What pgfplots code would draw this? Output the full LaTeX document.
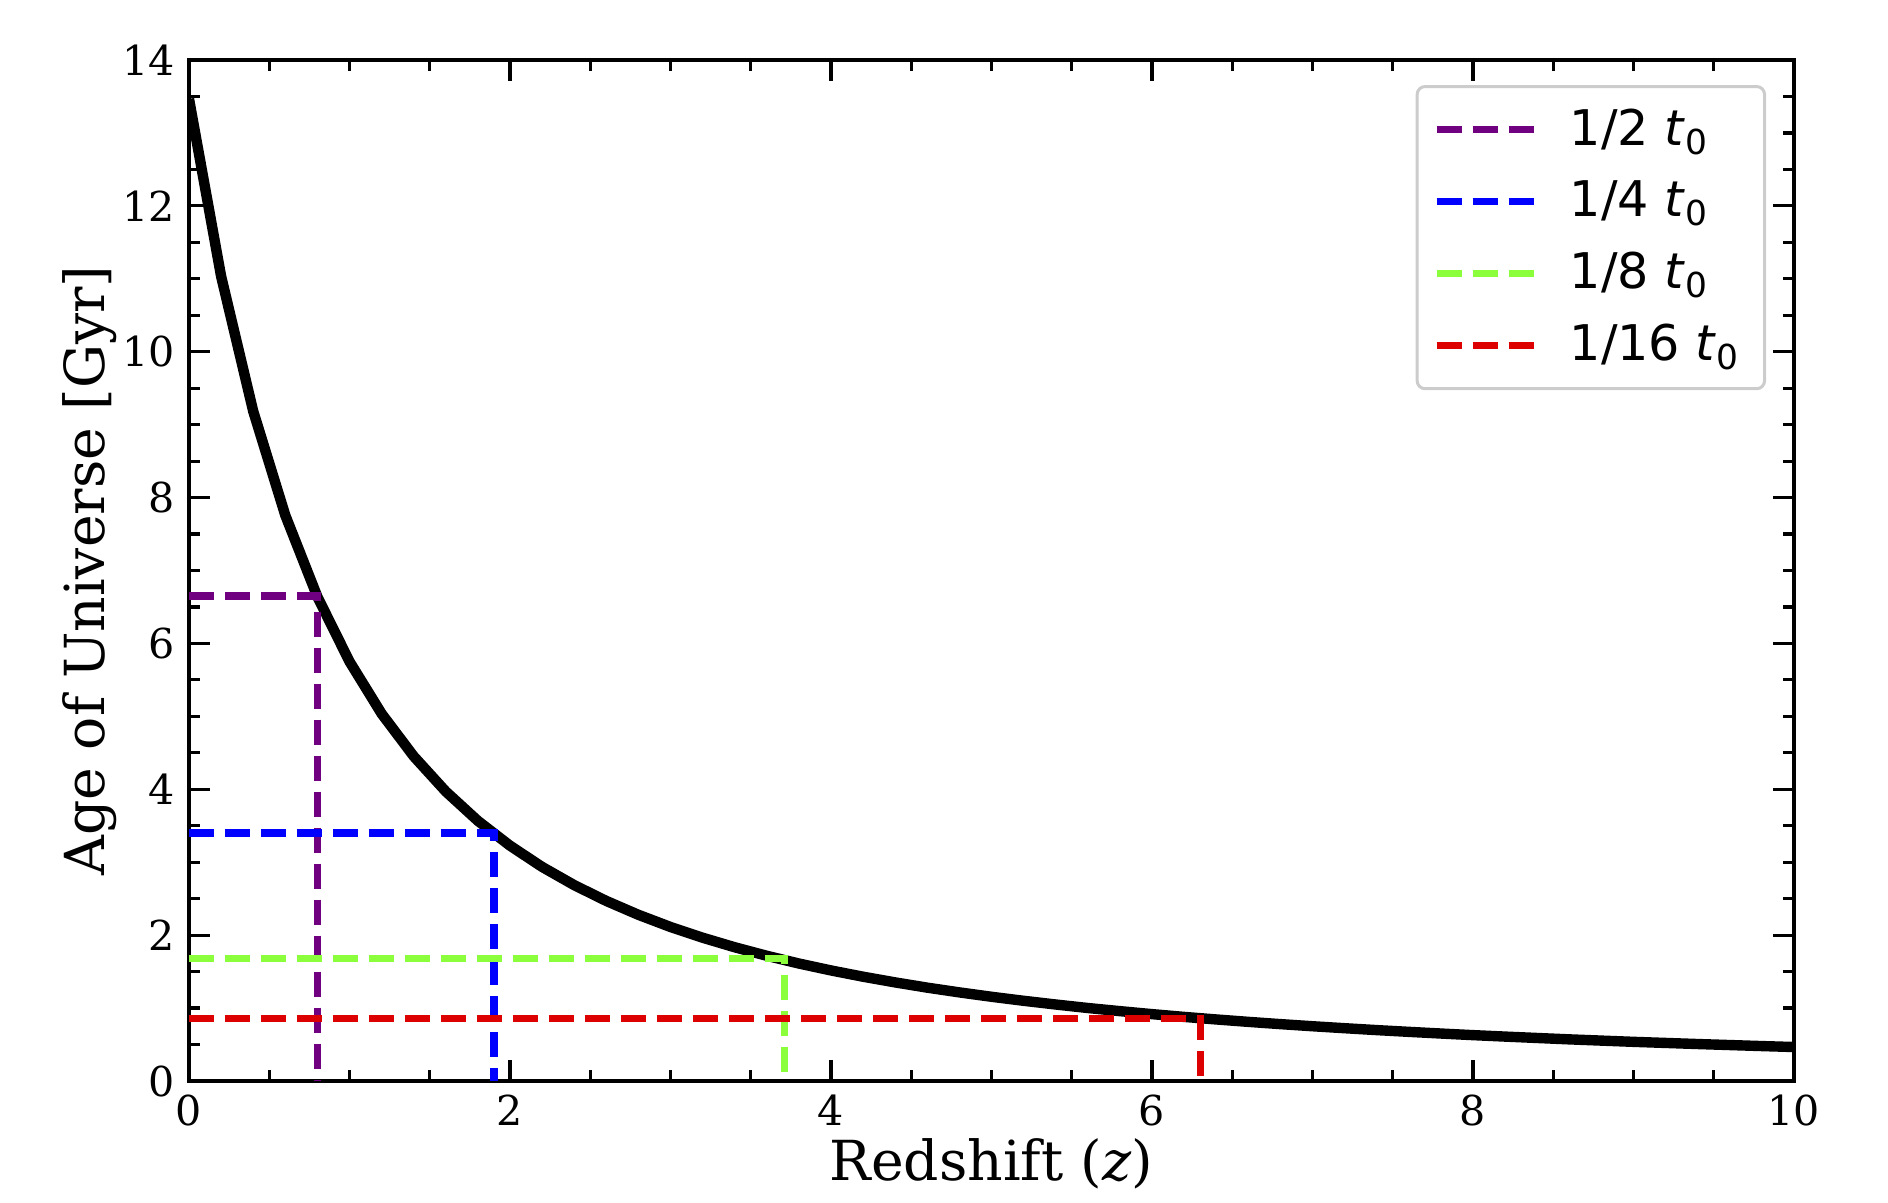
\documentclass[border=0pt]{standalone}
\usepackage{fontspec}
\setmainfont{DejaVu Serif}
\newfontfamily\legendfont{DejaVu Sans}
\usepackage{pgfplots}
\pgfplotsset{compat=1.18}

\definecolor{halfc}{RGB}{112,0,128}
\definecolor{quarterc}{RGB}{0,0,255}
\definecolor{eighthc}{RGB}{140,255,60}
\definecolor{sixteenthc}{RGB}{220,0,0}

\begin{document}
\begin{tikzpicture}
\path[use as bounding box] (-47.25pt,-30.25pt) rectangle (424.75pt,270.25pt);
\begin{axis}[
    at={(0pt,0pt)}, anchor=south west,
    scale only axis,
    width=401.25pt,
    height=255.25pt,
    xmin=0, xmax=10,
    ymin=0, ymax=14,
    xtick={0,2,...,10},
    ytick={0,2,...,14},
    minor tick num=3,
    tick align=inside,
    xtick pos=both, ytick pos=both,
    major tick length=5.25pt,
    minor tick length=2.75pt,
    axis line style={line width=0.8pt},
    every tick/.style={black, line width=0.8pt},
    tick label style={font=\fontsize{10.3}{12}\selectfont},
    /pgf/number format/assume math mode=true,
    xlabel={Redshift (\textit{z})},
    ylabel={Age of Universe [Gyr]},
    label style={font=\fontsize{13.8}{16}\selectfont},
    xlabel style={at={(axis description cs:0.5,-0.0558)}, anchor=north, inner sep=0pt},
    ylabel style={at={(axis description cs:-0.0791,0.5)}, anchor=north, inner sep=0pt},
    legend style={
      at={(0.9826,0.9755)}, anchor=north east,
      draw=black!20, line width=0.75pt, rounded corners=2pt,
      fill=white,
      font=\legendfont\fontsize{12.3}{14}\selectfont,
      inner xsep=4pt, inner ysep=3.5pt,
      row sep=3.4pt,
      /tikz/every odd column/.append style={column sep=5.75pt},
    },
    legend cell align=left,
    legend image code/.code={\draw[#1] (0pt,0pt) -- (24.6pt,0pt);},
  ]

  % age of the universe against redshift
  \addplot[black, line width=2.6pt, forget plot] coordinates {
    (0.0,13.467) (0.2,11.035) (0.4,9.185) (0.6,7.757) (0.8,6.640)
    (1.0,5.752) (1.2,5.037) (1.4,4.453) (1.6,3.970) (1.8,3.567)
    (2.0,3.227) (2.2,2.936) (2.4,2.686) (2.6,2.469) (2.8,2.279)
    (3.0,2.112) (3.2,1.965) (3.4,1.834) (3.6,1.717) (3.8,1.611)
    (4.0,1.516) (4.2,1.430) (4.4,1.352) (4.6,1.280) (4.8,1.215)
    (5.0,1.155) (5.2,1.100) (5.4,1.049) (5.6,1.001) (5.8,0.958)
    (6.0,0.917) (6.2,0.879) (6.4,0.844) (6.6,0.811) (6.8,0.780)
    (7.0,0.751) (7.2,0.724) (7.4,0.698) (7.6,0.674) (7.8,0.651)
    (8.0,0.629) (8.2,0.609) (8.4,0.590) (8.6,0.571) (8.8,0.554)
    (9.0,0.537) (9.2,0.522) (9.4,0.507) (9.6,0.493) (9.8,0.479)
    (10.0,0.466)
  };

  % fractions of the present age
  \addplot[halfc, line width=1.8pt, dash pattern=on 6.25pt off 2.75pt] coordinates {
    (0,6.65) (0.80,6.65) (0.80,0)
  };
  \addplot[quarterc, line width=1.8pt, dash pattern=on 6.25pt off 2.75pt] coordinates {
    (0,3.40) (1.90,3.40) (1.90,0)
  };
  \addplot[eighthc, line width=1.8pt, dash pattern=on 6.25pt off 2.75pt] coordinates {
    (0,1.68) (3.71,1.68) (3.71,0)
  };
  \addplot[sixteenthc, line width=1.8pt, dash pattern=on 6.25pt off 2.75pt] coordinates {
    (0,0.86) (6.30,0.86) (6.30,0)
  };

  \legend{1/2 \textit{t}\textsubscript{0}, 1/4 \textit{t}\textsubscript{0},
          1/8 \textit{t}\textsubscript{0}, 1/16 \textit{t}\textsubscript{0}}

\end{axis}
\end{tikzpicture}
\end{document}
